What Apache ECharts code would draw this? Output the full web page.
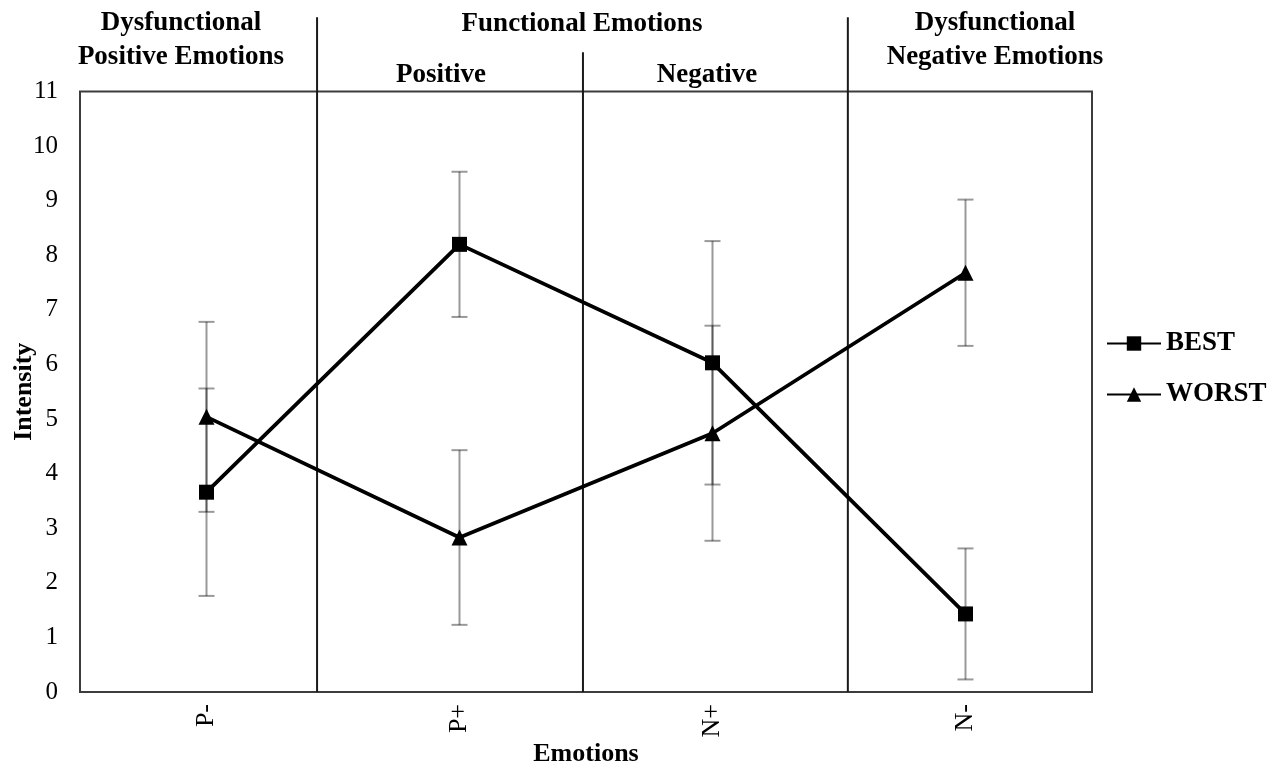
<!DOCTYPE html>
<html><head><meta charset="utf-8">
<script src="https://cdn.jsdelivr.net/npm/echarts@6/dist/echarts.min.js"></script>
<style>html,body{margin:0;padding:0;background:#fff}#c{width:1285px;height:769px}</style>
</head><body><div id="c"></div><script>
// ---- data ----
const categories = ['P-', 'P+', 'N+', 'N-'];
const bestValues = [3.66, 8.20, 6.03, 1.43];
const bestErrors = [1.90, 1.33, 2.23, 1.20];
const worstValues = [5.04, 2.83, 4.74, 7.68];
const worstErrors = [1.74, 1.60, 1.97, 1.34];
const yTickLabels = ['0','1','2','3','4','5','6','7','8','9','10','11'];
const seriesNames = ['BEST', 'WORST'];
const groupTitles = ['Dysfunctional\nPositive Emotions', 'Functional Emotions', 'Positive', 'Negative', 'Dysfunctional\nNegative Emotions'];

// ---- layout / style ----
const FONT = '"Liberation Serif", "Times New Roman", serif';
const separatorPos = [0.437, 1.488, 2.535];   // in category units
const separatorTop = [12.36, 11.72, 12.36];   // in value units (above the plot)

function errData(vals, errs) {
  return vals.map((v, i) => [i, v - errs[i], v + errs[i]]);
}
function errRender(params, api) {
  const x = api.value(0), lo = api.value(1), hi = api.value(2);
  const p1 = api.coord([x, lo]), p2 = api.coord([x, hi]);
  const cap = 8;
  const st = { stroke: 'rgba(0,0,0,0.4)', lineWidth: 2, fill: null };
  return { type: 'group', children: [
    { type: 'line', shape: { x1: p1[0], y1: p1[1], x2: p2[0], y2: p2[1] }, style: st },
    { type: 'line', shape: { x1: p1[0] - cap, y1: p1[1], x2: p1[0] + cap, y2: p1[1] }, style: st },
    { type: 'line', shape: { x1: p2[0] - cap, y1: p2[1], x2: p2[0] + cap, y2: p2[1] }, style: st }
  ]};
}
function sepRender(params, api) {
  const x = api.value(0), top = api.value(1);
  const a = api.coord([x, 0]), b = api.coord([x, top]);
  return { type: 'line', shape: { x1: a[0], y1: a[1], x2: b[0], y2: b[1] },
    style: { stroke: '#1a1a1a', lineWidth: 2 } };
}

const chart = echarts.init(document.getElementById('c'));
const titleFont = 'bold 27px ' + FONT;
chart.setOption({
  animation: false,
  backgroundColor: '#fff',
  grid: { left: 80, right: 193, top: 91.5, bottom: 77, show: true, borderColor: '#3c3c3c', borderWidth: 2,
    containLabel: false, outerBoundsMode: 'none' },
  xAxis: [{
    type: 'category', data: categories, boundaryGap: true,
    name: 'Emotions', nameLocation: 'middle', nameGap: 49, nameMoveOverlap: false,
    nameTextStyle: { fontFamily: FONT, fontWeight: 'bold', fontSize: 26, color: '#000' },
    axisLine: { show: false }, axisTick: { show: false },
    axisLabel: { rotate: 90, margin: 12, fontFamily: FONT, fontSize: 26, color: '#000' }
  }, {
    type: 'value', min: -0.5, max: 3.5, show: false
  }],
  yAxis: {
    type: 'value', min: 0, max: 11, interval: 1,
    name: 'Intensity', nameLocation: 'middle', nameGap: 43, nameMoveOverlap: false,
    nameTextStyle: { fontFamily: FONT, fontWeight: 'bold', fontSize: 26, color: '#000' },
    axisLine: { show: false }, axisTick: { show: false }, splitLine: { show: false },
    axisLabel: { margin: 22, fontFamily: FONT, fontSize: 25, color: '#000',
      formatter: (v) => yTickLabels[Math.round(v)] }
  },
  legend: {
    orient: 'vertical', left: 1106, top: 330, padding: 0,
    itemWidth: 54, itemHeight: 18, itemGap: 24,
    textStyle: { fontFamily: FONT, fontWeight: 'bold', fontSize: 27, color: '#000', lineHeight: 27 },
    data: seriesNames
  },
  series: [
    { type: 'custom', xAxisIndex: 1, renderItem: sepRender, silent: true, clip: false, z: 1,
      data: separatorPos.map((x, i) => [x, separatorTop[i]]) },
    { type: 'custom', name: 'bestErr', renderItem: errRender, silent: true, z: 2,
      encode: { x: 0, y: [1, 2] }, data: errData(bestValues, bestErrors) },
    { type: 'custom', name: 'worstErr', renderItem: errRender, silent: true, z: 2,
      encode: { x: 0, y: [1, 2] }, data: errData(worstValues, worstErrors) },
    { type: 'line', name: seriesNames[0], data: bestValues, symbol: 'rect', symbolSize: 15,
      itemStyle: { color: '#000' }, lineStyle: { color: '#000', width: 3.8 }, z: 5 },
    { type: 'line', name: seriesNames[1], data: worstValues, symbol: 'triangle', symbolSize: 16,
      itemStyle: { color: '#000' }, lineStyle: { color: '#000', width: 3.8 }, z: 5 }
  ],
  graphic: [
    { type: 'text', x: 181, y: 6, style: { text: groupTitles[0], font: titleFont, fill: '#000', align: 'center', lineHeight: 34 } },
    { type: 'text', x: 582, y: 11, style: { text: groupTitles[1], font: titleFont, fill: '#000', align: 'center' } },
    { type: 'text', x: 441, y: 62, style: { text: groupTitles[2], font: titleFont, fill: '#000', align: 'center' } },
    { type: 'text', x: 707, y: 62, style: { text: groupTitles[3], font: titleFont, fill: '#000', align: 'center' } },
    { type: 'text', x: 995, y: 6, style: { text: groupTitles[4], font: titleFont, fill: '#000', align: 'center', lineHeight: 34 } }
  ]
});
</script></body></html>
